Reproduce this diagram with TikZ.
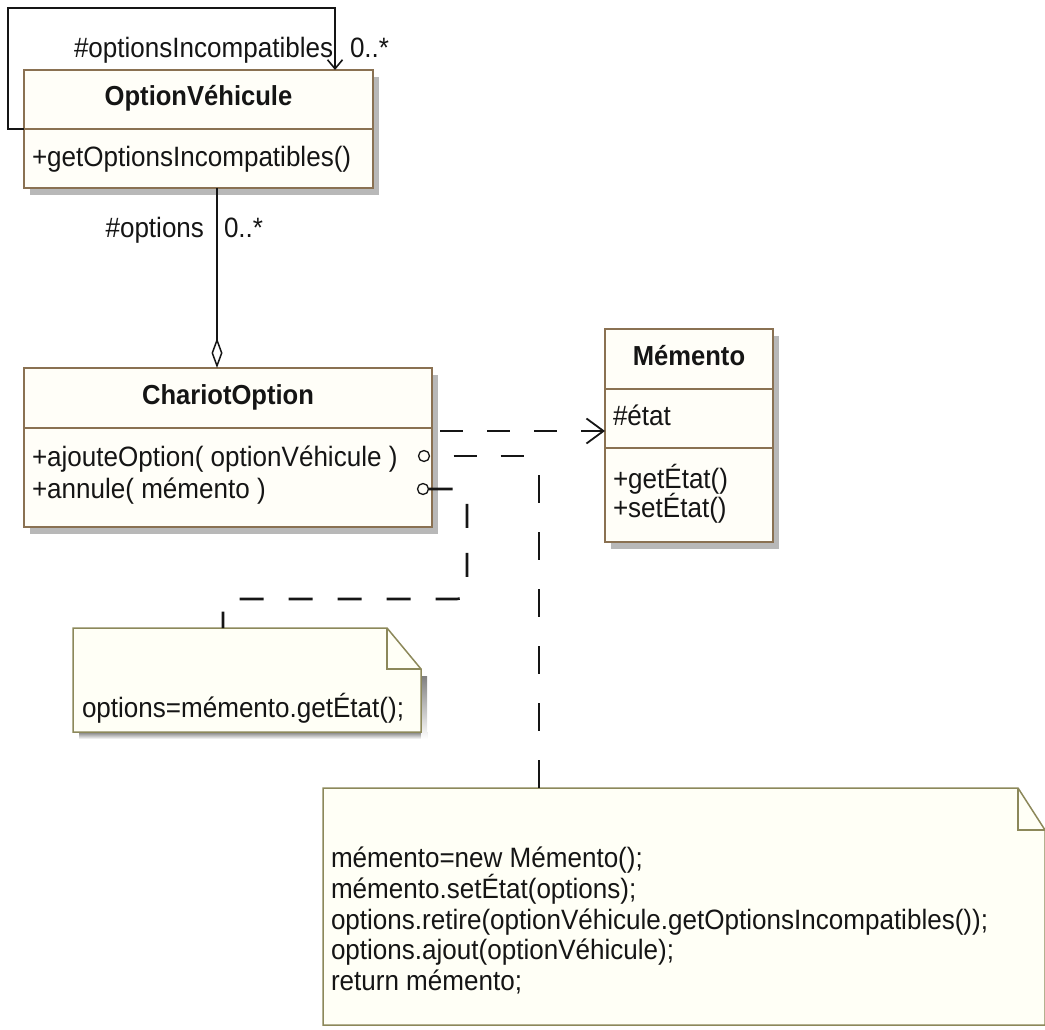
\documentclass[tikz,border=0pt]{standalone}
\usepackage{fontspec}
\setmainfont{Liberation Sans}[FakeStretch=0.93]
\usetikzlibrary{arrows.meta,shadows,calc}

\definecolor{boxline}{HTML}{8A7152}
\definecolor{boxfill}{HTML}{FFFEF8}
\definecolor{noteline}{HTML}{8C885A}
\definecolor{notefill}{HTML}{FFFFF6}
\definecolor{shade}{HTML}{B8B8B8}
\definecolor{ink}{HTML}{151515}

\begin{document}
\begin{tikzpicture}[x=1pt,y=-1pt,
  every node/.style={inner sep=0pt, outer sep=0pt, text=ink,
    font=\fontsize{28}{31}\selectfont},
  part/.style={rectangle, draw=boxline, fill=boxfill, line width=1.5pt,
    anchor=north west,
    general shadow={fill=shade, shadow xshift=6pt, shadow yshift=-7pt}},
  title/.style={font=\fontsize{27.5}{31}\selectfont\bfseries, anchor=base},
  member/.style={anchor=base west},
  notearea/.style={rectangle, anchor=north west},
  notebody/.style={draw=noteline, fill=notefill, line width=1.5pt, line join=miter},
  assoc/.style={draw=ink, line width=1.8pt},
  hlink/.style={draw=ink, line width=2.6pt, dash pattern=on 23pt off 24pt},
  vlink/.style={draw=ink, line width=2.6pt, dash pattern=on 28pt off 29pt},
  anchorring/.style={circle, draw=ink, fill=boxfill, line width=1.3pt, minimum size=11pt}
]
\useasboundingbox (0,0) rectangle (1045,1030);

% ---- class OptionVéhicule ----
\node[part, minimum width=349pt, minimum height=59pt] (ovt) at (24,70) {};
\node[part, minimum width=349pt, minimum height=59pt] (ovb) at (24,129) {};
\node[title] (ovname) at (198.5,106) {OptionVéhicule};
\node[member] (ovm1) at (32,167) {+getOptionsIncompatibles()};

% ---- class ChariotOption ----
\node[part, minimum width=408pt, minimum height=60pt] (cot) at (24,368) {};
\node[part, minimum width=408pt, minimum height=99pt] (cob) at (24,428) {};
\node[title] (coname) at (228,404) {ChariotOption};
\node[member] (com1) at (32,466) {+ajouteOption( optionVéhicule )};
\node[member] (com2) at (32,498) {+annule( mémento )};
\node[anchorring] (c1) at (424,456) {};
\node[anchorring] (c2) at (423,489) {};

% ---- class Mémento ----
\node[part, minimum width=168pt, minimum height=60pt] (met) at (605,329) {};
\node[part, minimum width=168pt, minimum height=59pt] (mea) at (605,389) {};
\node[part, minimum width=168pt, minimum height=94pt] (meo) at (605,448) {};
\node[title] (mename) at (689,365) {Mémento};
\node[member] (mea1) at (613,425) {\#état};
\node[member] (meo1) at (613,488) {+getÉtat()};
\node[member] (meo2) at (613,517) {+setÉtat()};

% ---- note on annule() ----
\node[notearea, minimum width=348pt, minimum height=104pt] (n1) at (73,628) {};
\fill[shade] ($(n1.south west)+(6,0)$) rectangle ($(n1.south east)+(6,7)$);
\fill[shade] ($(n1.north east)+(0,48)$) rectangle ($(n1.south east)+(6,7)$);
\filldraw[notebody] (n1.north west) -- ($(n1.north east)+(-34,0)$)
  -- ($(n1.north east)+(0,41)$) -- (n1.south east) -- (n1.south west) -- cycle;
\draw[notebody, fill=none] ($(n1.north east)+(-34,0)$) |- ($(n1.north east)+(0,41)$);
\node[member] (n1t) at (82,717) {options=mémento.getÉtat();};

% ---- note on ajouteOption() ----
\node[notearea, minimum width=722pt, minimum height=237pt] (n2) at (323,788) {};
\filldraw[notebody] (n2.north west) -- ($(n2.north east)+(-27,0)$)
  -- ($(n2.north east)+(0,42)$) -- (n2.south east) -- (n2.south west) -- cycle;
\draw[notebody, fill=none] ($(n2.north east)+(-27,0)$) |- ($(n2.north east)+(0,42)$);
\node[member] (n2l1) at (331,867) {mémento=new Mémento();};
\node[member] (n2l2) at (331,898) {mémento.setÉtat(options);};
\node[member] (n2l3) at (331,929) {options.retire(optionVéhicule.getOptionsIncompatibles());};
\node[member] (n2l4) at (331,959) {options.ajout(optionVéhicule);};
\node[member] (n2l5) at (331,990) {return mémento;};

% ---- reflexive association on OptionVéhicule ----
\coordinate (selfend) at (335,70);
\draw[assoc, -{Straight Barb[length=9pt,width=15pt,line width=1.6pt]}]
  (ovb.north west) -- ++(-16,0) |- ($(selfend)+(0,-62)$) -- (selfend);
\node[member] (selfrole) at (74,58) {\#optionsIncompatibles};
\node[member] (selfmult) at (350,58) {0..*};

% ---- aggregation ChariotOption <>-- OptionVéhicule ----
\coordinate (aggx) at (217,0);
\draw[assoc, -{Diamond[open,length=30pt,width=11pt,line width=1.5pt]}]
  (ovb.south -| aggx) -- (cot.north -| aggx);
\node[anchor=base east] (aggrole) at (204,237) {\#options};
\node[member] (aggmult) at (224,237) {0..*};

% ---- dependency ChariotOption - - -> Mémento ----
\coordinate (depy) at (0,431);
\draw[hlink, dash phase=39pt,
  -{Straight Barb[length=17pt,width=25pt,line width=1.8pt]}]
  (cob.east |- depy) -- (mea.west |- depy);

% ---- note links ----
\coordinate (l1x) at (539,0);
\draw[hlink, dash phase=23pt] (c1.east) -- (c1.east -| l1x);
\draw[vlink, dash phase=38pt] (c1.east -| l1x) -- (n2.north -| l1x);

\coordinate (l2b) at (467,599);
\coordinate (l2c) at (223,599);
\draw[draw=ink, line width=2.6pt, dash pattern=on 24pt off 25pt, rounded corners=10pt]
  (c2.east) -| (l2b) -- (l2c) -- (n1.north -| l2c);
\end{tikzpicture}
\end{document}
